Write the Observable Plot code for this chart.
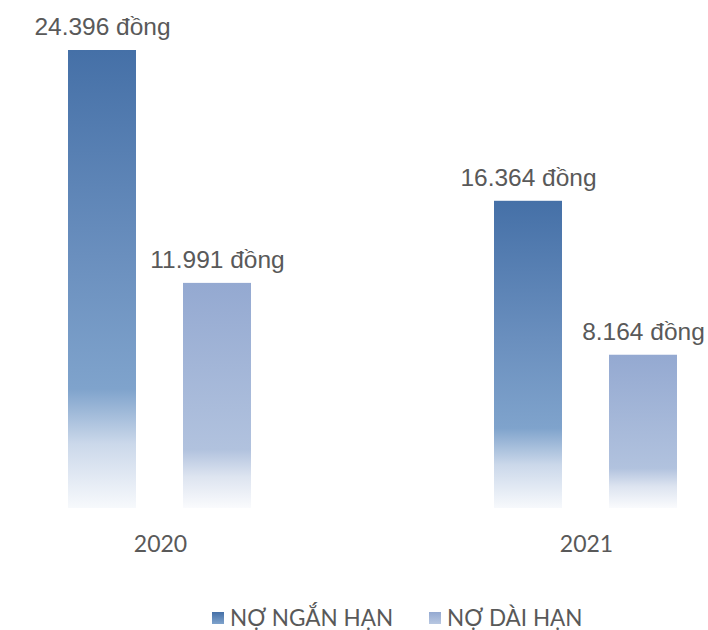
<!DOCTYPE html>
<html>
<head>
<meta charset="utf-8">
<script src="https://cdn.jsdelivr.net/npm/d3@7"></script>
<script src="https://cdn.jsdelivr.net/npm/@observablehq/plot@0.6"></script>
<style>
  html, body { margin: 0; padding: 0; background: #fff; }
  #chart { width: 708px; height: 630px; position: relative; }
  .legend { position: absolute; left: 212px; top: 604px; display: flex; font-family: Lato, "Open Sans", sans-serif; font-size: 22.5px; color: #595959; white-space: nowrap; }
  .legend .item { display: flex; align-items: center; margin-right: 36px; }
  .legend .sw { width: 12px; height: 12px; margin-right: 6px; }
</style>
</head>
<body>
<div id="chart"></div>
<script>
const years = ["2020", "2021"];
const series = ["NỢ NGẮN HẠN", "NỢ DÀI HẠN"];
const shortTerm = [24396, 16364];
const longTerm = [11991, 8164];

const data = [];
years.forEach((y, i) => {
  data.push({year: y, series: series[0], value: shortTerm[i]});
  data.push({year: y, series: series[1], value: longTerm[i]});
});

const vn = d3.formatLocale({decimal: ",", thousands: ".", grouping: [3], currency: ["", " đ"]});
const fmt = vn.format(",d");

const plot = Plot.plot({
  width: 708,
  height: 585,
  marginTop: 50,
  marginBottom: 77,
  marginLeft: 68,
  marginRight: 29,
  fx: {domain: years, paddingInner: 0.567, paddingOuter: 0, label: null},
  x: {domain: series, paddingInner: 0.405, paddingOuter: 0, axis: null},
  y: {domain: [0, d3.max(shortTerm)], axis: null},
  style: {fontFamily: "Liberation Sans, Arial, sans-serif", color: "#595959", background: "#fff"},
  marks: [
    Plot.axisFx({anchor: "bottom", fontSize: 23, tickSize: 0, tickPadding: 27, fontFamily: "Lato, 'Open Sans', sans-serif", fill: "#595959", label: null}),
    Plot.barY(data.filter(d => d.series === series[0]), {fx: "year", x: "series", y: "value", fill: "url(#gDark)"}),
    Plot.barY(data.filter(d => d.series === series[1]), {fx: "year", x: "series", y: "value", fill: "url(#gLight)"}),
    Plot.text(data, {fx: "year", x: "series", y: "value", text: d => fmt(d.value) + " đồng", dy: -23, fontSize: 24.5, fill: "#595959"})
  ]
});

const svg = d3.select(plot);
const defs = svg.insert("defs", ":first-child");
function grad(id, stops) {
  const g = defs.append("linearGradient").attr("id", id).attr("x1", 0).attr("y1", 0).attr("x2", 0).attr("y2", 1);
  stops.forEach(([o, c]) => g.append("stop").attr("offset", o).attr("stop-color", c));
}
grad("gDark", [[0, "#4570a7"], [0.45, "#6a8fbe"], [0.74, "#7fa3cc"], [0.86, "#cbd8ea"], [1, "#f7f9fc"]]);
grad("gLight", [[0, "#94a9d1"], [0.74, "#b1c2de"], [0.86, "#dde4f0"], [1, "#fafbfd"]]);

const chart = document.getElementById("chart");
chart.appendChild(plot);

const legend = document.createElement("div");
legend.className = "legend";
const swColors = ["linear-gradient(#4570a7,#7fa3cc)", "linear-gradient(#94a9d1,#b8c7e1)"];
series.forEach((s, i) => {
  const it = document.createElement("div");
  it.className = "item";
  const sw = document.createElement("div");
  sw.className = "sw";
  sw.style.background = swColors[i];
  const t = document.createElement("span");
  t.textContent = s;
  it.appendChild(sw);
  it.appendChild(t);
  legend.appendChild(it);
});
chart.appendChild(legend);
</script>
</body>
</html>
